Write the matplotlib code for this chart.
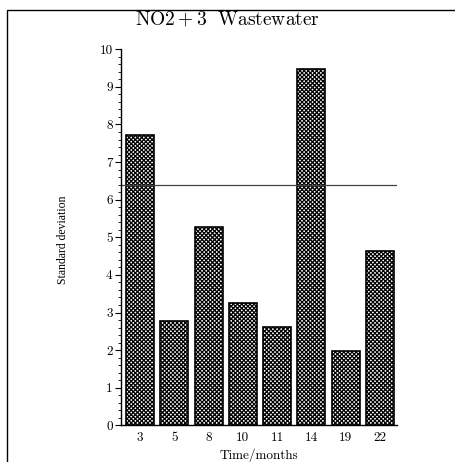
import matplotlib
matplotlib.use("Agg")
import matplotlib.pyplot as plt
from matplotlib.patches import Rectangle
from matplotlib.ticker import MultipleLocator

months = ["3", "5", "8", "10", "11", "14", "19", "22"]
std_dev = [7.71, 2.77, 5.27, 3.26, 2.61, 9.47, 1.98, 4.63]
reference_level = 6.40

plt.rcParams["hatch.linewidth"] = 0.9
plt.rcParams["mathtext.fontset"] = "cm"


def plot_bars():
    fig = plt.figure(figsize=(4.55, 4.62), dpi=100)
    ax = fig.add_axes([0.266, 0.0794, 0.6066, 0.8139])

    x = list(range(len(months)))
    ax.bar(x, std_dev, width=0.816, color="white", edgecolor="black",
           hatch="xxxxxxxx", linewidth=1.2)
    ax.axhline(reference_level, color="#444444", linewidth=0.9)

    ax.set_xlim(-0.554, 7.5)
    ax.set_ylim(0, 10)
    ax.set_xticks(x)
    ax.set_xticklabels(months, family="cmr10", fontsize=9.5)
    ax.yaxis.set_major_locator(MultipleLocator(1))
    ax.yaxis.set_minor_locator(MultipleLocator(0.2))
    for lab in ax.get_yticklabels():
        lab.set_family("cmr10")
        lab.set_fontsize(9.5)
    ax.tick_params(axis="x", length=0, pad=5)
    ax.tick_params(axis="y", which="major", length=4, width=0.8, pad=2)
    ax.tick_params(axis="y", which="minor", length=2, width=0.6)

    for side in ["top", "right"]:
        ax.spines[side].set_visible(False)
    ax.spines["left"].set_linewidth(1.0)
    ax.spines["bottom"].set_linewidth(1.0)

    ax.set_xlabel("Time/months", family="cmr10", fontsize=9.5, labelpad=3)
    fig.text(63 / 455, 1 - 240 / 462, "Standard deviation", rotation=90,
             ha="center", va="center", fontsize=8.5,
             family=["Liberation Serif", "DejaVu Serif"])

    fig.text(0.5, 1 - 19 / 462, r"$\mathrm{NO2+3}\ \ \mathrm{Wastewater}$",
             ha="center", va="center", fontsize=14)

    frame = Rectangle((7 / 455, -0.1), 1.2, 1 - 9.5 / 462 + 0.1,
                      transform=fig.transFigure, fill=False,
                      edgecolor="black", linewidth=1.0)
    fig.add_artist(frame)

    fig.savefig("out.png", dpi=100)


if __name__ == "__main__":
    plot_bars()
